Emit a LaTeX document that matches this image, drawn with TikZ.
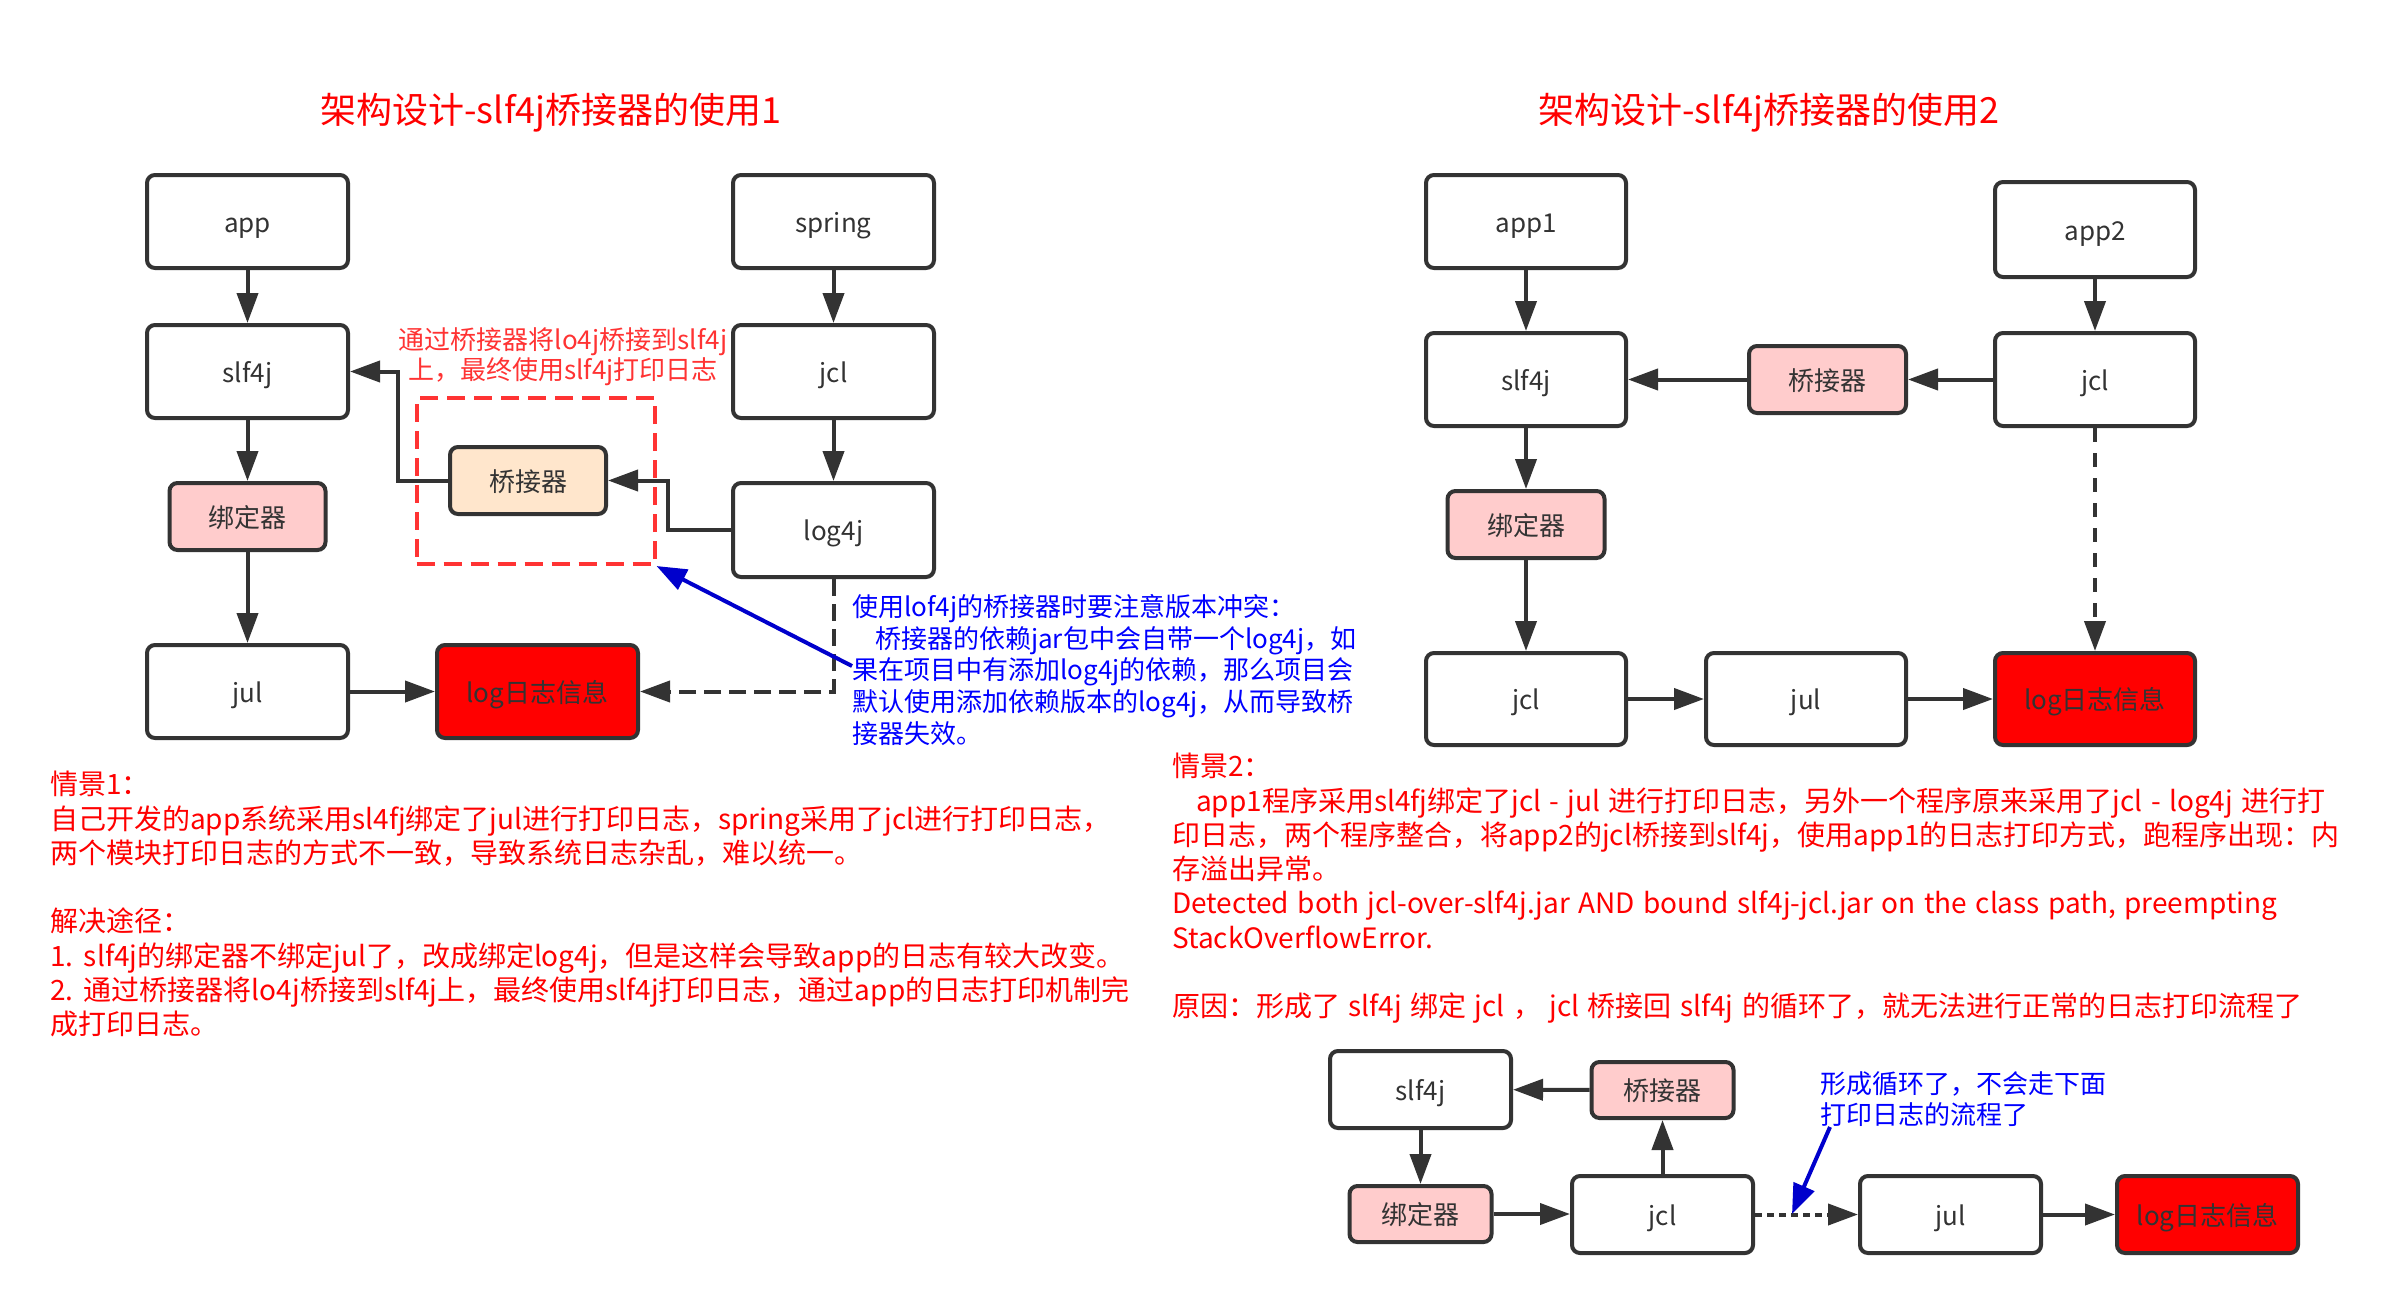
\documentclass[tikz,border=0pt]{standalone}
\usepackage{fontspec}
\setmainfont{Noto Sans CJK SC}
\usetikzlibrary{arrows.meta,calc}
\definecolor{ink}{HTML}{333333}
\definecolor{pinkfill}{HTML}{FFCCCC}
\definecolor{peachfill}{HTML}{FFE6CC}
\definecolor{logred}{HTML}{FF0000}
\definecolor{notered}{HTML}{FF3333}
\definecolor{bluetxt}{HTML}{0000FF}
\definecolor{bluearrow}{HTML}{0000CC}
\newcommand\scenefont{\fontsize{28}{34.3}\selectfont\spaceskip 8.4pt\relax}
\tikzset{
  basebox/.style={draw=ink, line width=4pt, rounded corners=8pt, fill=white, text=ink,
    font=\fontsize{26}{31}\selectfont, inner sep=0pt, text height=23pt, text depth=2pt},
  bigbox/.style={basebox, minimum width=201pt, minimum height=93pt},
  smallbox/.style={basebox, minimum width=156pt, minimum height=67pt},
  botbox/.style={basebox, minimum width=181pt, minimum height=77pt},
  botsmall/.style={basebox, minimum width=142pt, minimum height=56pt},
  dashbox/.style={draw=notered, line width=4pt, dash pattern=on 18pt off 9pt, inner sep=0pt},
  arr/.style={draw=ink, line width=4pt, -{Triangle[length=30pt,width=21pt]}},
  dasharr/.style={arr, dash pattern=on 17pt off 8pt},
  dotarr/.style={arr, dash pattern=on 7pt off 5pt},
  bluearr/.style={draw=bluearrow, line width=4pt, -{Triangle[length=30pt,width=22pt]}},
  titletext/.style={text=logred, font=\fontsize{36}{42}\selectfont, inner sep=0pt},
  redpara/.style={text=logred, font=\scenefont, align=left, inner sep=0pt, anchor=north west},
  bluepara/.style={text=bluetxt, font=\fontsize{26}{31.8}\selectfont, align=left, inner sep=0pt, anchor=north west},
  annotext/.style={text=notered, font=\fontsize{26}{30}\selectfont, align=center, inner sep=0pt}
}
\begin{document}
\begin{tikzpicture}[x=1pt,y=-1pt]
\useasboundingbox[fill=white] (0,0) rectangle (2394,1304);

% ---------- left diagram ----------
\node[titletext] (title1) at (551,113) {架构设计-slf4j桥接器的使用1};
\node[bigbox] (app) at (247.5,221.5) {app};
\node[bigbox] (spring) at (833.5,221.5) {spring};
\node[bigbox] (slf4j) at (247.5,371.5) {slf4j};
\node[bigbox] (jcl) at (833.5,371.5) {jcl};
\node[smallbox, fill=pinkfill] (bind) at (247.5,516.5) {绑定器};
\node[smallbox, fill=peachfill] (bridge) at (528,480.5) {桥接器};
\node[bigbox, minimum height=94pt] (log4j) at (833.5,530) {log4j};
\node[bigbox] (jul) at (247.5,691.5) {jul};
\node[bigbox, fill=logred] (logL) at (537.5,691.5) {log日志信息};
\node[dashbox, minimum width=238pt, minimum height=166pt] (conflict) at (535.5,481) {};
\node[annotext] (note1) at (563,357) {通过桥接器将lo4j桥接到slf4j\\上，最终使用slf4j打印日志};

\draw[arr] (app) -- (slf4j);
\draw[arr] (spring) -- (jcl);
\draw[arr] (jcl) -- (log4j);
\draw[arr] (slf4j) -- (bind);
\draw[arr] (bind) -- (jul);
\draw[arr] (jul) -- (logL);
\draw[arr] (bridge.west) -- ++(-50,0) |- (slf4j.east);
\draw[arr] (log4j.west) -- ++(-63,0) |- (bridge.east);
\draw[dasharr] (log4j.south) |- (logL.east);

\node[bluepara] (note2) at (852,594) {使用lof4j的桥接器时要注意版本冲突：\\
\hspace*{23pt}桥接器的依赖jar包中会自带一个log4j，如\\
果在项目中有添加log4j的依赖，那么项目会\\
默认使用添加依赖版本的log4j，从而导致桥\\
接器失效。};
\coordinate (warnstart) at (852,666);
\draw[bluearr] (warnstart) -- (conflict.south east);

\node[redpara] (scene1) at (50,771) {情景1：\\
自己开发的app系统采用sl4fj绑定了jul进行打印日志，spring采用了jcl进行打印日志，\\
两个模块打印日志的方式不一致，导致系统日志杂乱，难以统一。\\
\mbox{}\\
解决途径：\\
1. slf4j的绑定器不绑定jul了，改成绑定log4j，但是这样会导致app的日志有较大改变。\\
2. 通过桥接器将lo4j桥接到slf4j上，最终使用slf4j打印日志，通过app的日志打印机制完\\
成打印日志。};

% ---------- right diagram ----------
\node[titletext] (title2) at (1769,113) {架构设计-slf4j桥接器的使用2};
\node[bigbox, minimum width=200pt] (app1) at (1526,221.5) {app1};
\node[bigbox, minimum width=200pt, minimum height=95pt] (app2) at (2095,229.5) {app2};
\node[bigbox, minimum width=200pt] (slf4jR) at (1526,379.5) {slf4j};
\node[smallbox, minimum width=157pt, fill=pinkfill] (bridgeR) at (1827.5,379.5) {桥接器};
\node[bigbox, minimum width=200pt] (jclR) at (2095,379.5) {jcl};
\node[smallbox, minimum width=157pt, fill=pinkfill] (bindR) at (1526,524.5) {绑定器};
\node[bigbox, minimum width=200pt, minimum height=92pt] (jclR2) at (1526,699) {jcl};
\node[bigbox, minimum width=200pt, minimum height=92pt] (julR) at (1806,699) {jul};
\node[bigbox, minimum width=200pt, minimum height=92pt, fill=logred] (logR) at (2095,699) {log日志信息};

\draw[arr] (app1) -- (slf4jR);
\draw[arr] (app2) -- (jclR);
\draw[arr] (jclR) -- (bridgeR);
\draw[arr] (bridgeR) -- (slf4jR);
\draw[arr] (slf4jR) -- (bindR);
\draw[arr] (bindR) -- (jclR2);
\draw[arr] (jclR2) -- (julR);
\draw[arr] (julR) -- (logR);
\draw[arr, dash pattern=on 14pt off 11pt] (jclR) -- (logR);

\node[redpara] (scene2) at (1172,753) {情景2：\\
\hspace*{24pt}app1程序采用sl4fj绑定了jcl - jul 进行打印日志，另外一个程序原来采用了jcl - log4j 进行打\\
印日志，两个程序整合，将app2的jcl桥接到slf4j，使用app1的日志打印方式，跑程序出现：内\\
存溢出异常。\\
Detected both jcl-over-slf4j.jar AND bound slf4j-jcl.jar on the class path, preempting\\
StackOverflowError.\\
\mbox{}\\
原因：形成了 slf4j 绑定 jcl ， jcl 桥接回 slf4j 的循环了，就无法进行正常的日志打印流程了};

% ---------- bottom loop diagram ----------
\node[botbox] (slf4jB) at (1420.5,1089.5) {slf4j};
\node[botsmall, fill=pinkfill] (bridgeB) at (1662.5,1090) {桥接器};
\node[botsmall, fill=pinkfill] (bindB) at (1420.5,1214) {绑定器};
\node[botbox] (jclB) at (1662.5,1214.5) {jcl};
\node[botbox] (julB) at (1950.5,1214.5) {jul};
\node[botbox, fill=logred] (logB) at (2207.5,1214.5) {log日志信息};

\draw[arr] (bridgeB) -- (slf4jB);
\draw[arr] (jclB) -- (bridgeB);
\draw[arr] (slf4jB.south -| bindB.north) -- (bindB.north);
\draw[arr] (bindB.east) -- (bindB.east -| jclB.west);
\draw[dotarr] (jclB) -- (julB);
\draw[arr] (julB) -- (logB);

\node[bluepara] (note3) at (1820,1071) {形成循环了，不会走下面\\打印日志的流程了};
\coordinate (loopstart) at (1830,1127);
\coordinate (loopPt) at (1792,1214);
\draw[bluearr] (loopstart) -- (loopPt);
\end{tikzpicture}
\end{document}
